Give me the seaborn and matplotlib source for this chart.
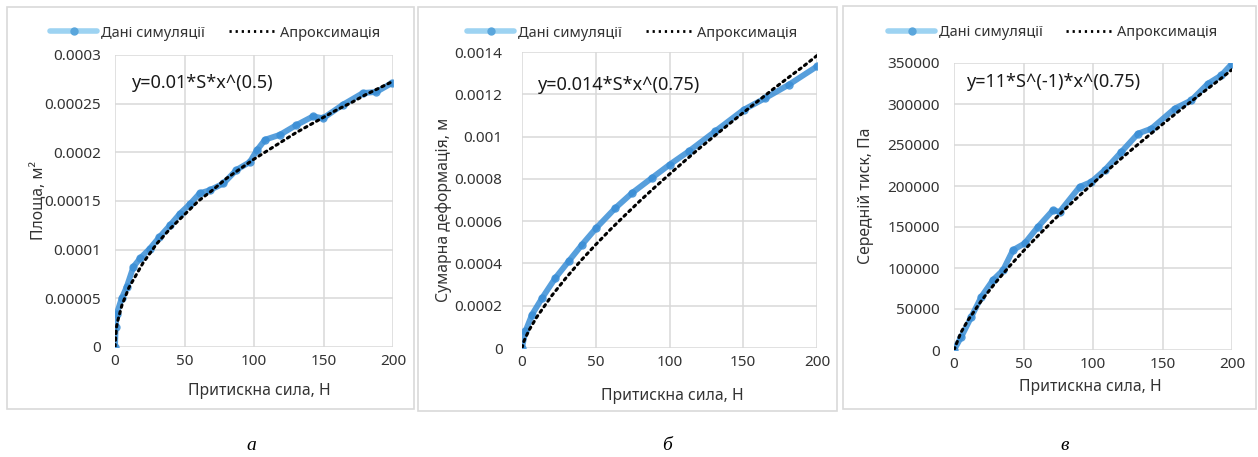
import numpy as np
import pandas as pd
import matplotlib
matplotlib.use("Agg")
import matplotlib.pyplot as plt
from matplotlib.lines import Line2D
from matplotlib.patches import Rectangle
import seaborn as sns

# ---------------- data ----------------
# Panel a: contact area
a_sim_x = [0, 0.5, 1.2, 4.8, 8.4, 13.2, 18, 25, 32, 39.5, 46.7, 54, 61, 68, 78, 87.4,
           97, 102, 108, 118.6, 130.5, 142.5, 149.7, 164, 178.4, 188, 199]
a_sim_y = [0, 0.0000206, 0.000034, 0.00005, 0.0000617, 0.0000823, 0.000091, 0.000101,
           0.000113, 0.000125, 0.000137, 0.000147, 0.000158, 0.000161, 0.000168, 0.000182,
           0.00019, 0.000202, 0.000213, 0.000218, 0.000228, 0.000237, 0.000235, 0.000249,
           0.000261, 0.000262, 0.000271]
a_fit_x = [0, 1, 2, 5, 10, 20, 30, 40, 50, 60, 70, 80, 90, 100, 110, 120, 130, 140, 150,
           160, 170, 180, 190, 200]
a_fit_y = [0, 0.00002, 0.000027, 0.000043, 0.000061, 0.000086, 0.000106, 0.000122, 0.000136,
           0.00015, 0.000161, 0.000173, 0.000183, 0.000193, 0.000202, 0.000211, 0.00022,
           0.000228, 0.000236, 0.000244, 0.000251, 0.000259, 0.000266, 0.000273]

# Panel b: total deformation
b_sim_x = [0, 2.3, 6.8, 13.6, 22.6, 31.6, 40.7, 50.4, 63.3, 74.6, 88, 100, 113, 131, 150.3,
           165, 180.8, 200]
b_sim_y = [0, 0.0000788, 0.000158, 0.000236, 0.000331, 0.00041, 0.000489, 0.000568, 0.000662,
           0.000733, 0.000804, 0.000867, 0.00093, 0.001025, 0.001127, 0.001182, 0.001245,
           0.001332]
b_fit_x = [0, 1, 2, 5, 10, 20, 30, 40, 50, 60, 70, 80, 90, 100, 110, 120, 130, 140, 150,
           160, 170, 180, 190, 200]
b_fit_y = [0, 0.000026, 0.0000437, 0.000087, 0.000146, 0.000246, 0.000333, 0.000414, 0.000489,
           0.000561, 0.000629, 0.000696, 0.00076, 0.000822, 0.000883, 0.000943, 0.001,
           0.001057, 0.001113, 0.001168, 0.001223, 0.001276, 0.001328, 0.001383]

# Panel c: mean pressure
c_sim_x = [0, 5.3, 12.5, 19.7, 28, 35.3, 42.4, 50.8, 60.4, 71.2, 76, 90.4, 98.8, 108.4, 120.4,
           132.4, 142, 158.8, 170.7, 182.7, 192.3, 200]
c_sim_y = [0, 16240, 40600, 65000, 85300, 97400, 121800, 130000, 150200, 170500, 168500,
           199000, 205000, 219300, 241600, 263900, 270000, 294400, 304500, 324800, 335000,
           349200]
c_fit_x = [0, 5, 10, 20, 30, 40, 50, 60, 70, 80, 90, 100, 110, 120, 130, 140, 150, 160, 170,
           180, 190, 200]
c_fit_y = [0, 21470, 36130, 60820, 82420, 102290, 120870, 138600, 155580, 171980, 187860,
           203290, 218330, 233050, 247390, 261470, 275290, 288920, 302290, 315410, 328330,
           341900]

x_ticks = [0, 50, 100, 150, 200]
a_yticks = [0, 0.00005, 0.0001, 0.00015, 0.0002, 0.00025, 0.0003]
a_ylabels = ["0", "0.00005", "0.0001", "0.00015", "0.0002", "0.00025", "0.0003"]
b_yticks = [0, 0.0002, 0.0004, 0.0006, 0.0008, 0.001, 0.0012, 0.0014]
b_ylabels = ["0", "0.0002", "0.0004", "0.0006", "0.0008", "0.001", "0.0012", "0.0014"]
c_yticks = [0, 50000, 100000, 150000, 200000, 250000, 300000, 350000]
c_ylabels = ["0", "50000", "100000", "150000", "200000", "250000", "300000", "350000"]

sim_label = "Дані симуляції"
fit_label = "Апроксимація"
x_label = "Притискна сила, Н"
y_labels = ["Площа, м²", "Сумарна деформація, м", "Середній тиск, Па"]
equations = ["y=0.01*S*x^(0.5)", "y=0.014*S*x^(0.75)", "y=11*S^(-1)*x^(0.75)"]
letters = ["а", "б", "в"]

# ---------------- style ----------------
sns.set_theme(style="whitegrid")
plt.rcParams["font.family"] = ["Noto Sans", "DejaVu Sans"]
TXT = "#333333"
GRID = "#d9d9d9"
BLUE = "#3a8ed6"

W, H = 1258, 457
fig = plt.figure(figsize=(W / 100, H / 100), dpi=100)
fig.patch.set_facecolor("white")

# panel frames (pixels: left, top, right, bottom)
frames = [(7, 7, 414, 409), (418, 7, 837, 411), (843, 6, 1256, 409)]
for l, t, r, b in frames:
    fig.add_artist(Rectangle((l / W, 1 - b / H), (r - l) / W, (b - t) / H,
                             transform=fig.transFigure, fill=False,
                             edgecolor=GRID, lw=1.2))

# axes boxes in pixels: left, top, right, bottom
boxes = [(115, 55, 393, 347), (522, 52, 817, 348), (954, 63, 1232, 350)]
datasets = [
    (a_sim_x, a_sim_y, a_fit_x, a_fit_y, a_yticks, a_ylabels),
    (b_sim_x, b_sim_y, b_fit_x, b_fit_y, b_yticks, b_ylabels),
    (c_sim_x, c_sim_y, c_fit_x, c_fit_y, c_yticks, c_ylabels),
]
eq_pos = [(0.061, 0.904), (0.054, 0.889), (0.047, 0.934)]
leg_pos = [(0.36, 1.075), (0.373, 1.064), (0.356, 1.105)]
xlab_pos = [(0.518, -0.122), (0.508, -0.134), (0.489, -0.100)]
ylab_pos = [(-0.245, 0.503), (-0.237, 0.466), (-0.288, 0.537)]
ypads = [10, 14, 10]
letter_x = [251, 667, 1065]

for i, ((l, t, r, b), (sx, sy, fx, fy, yt, yl)) in enumerate(zip(boxes, datasets)):
    ax = fig.add_axes([l / W, 1 - b / H, (r - l) / W, (b - t) / H])
    ax.set_facecolor("white")
    sim = pd.DataFrame({"x": sx, "y": sy})
    fit = pd.DataFrame({"x": fx, "y": fy})
    sns.lineplot(data=sim, x="x", y="y", ax=ax, sort=False, color=BLUE, lw=4.2, alpha=0.85,
                 marker="o", markersize=6, markeredgewidth=0, legend=False, zorder=3)
    sns.lineplot(data=fit, x="x", y="y", ax=ax, sort=False, color="black", lw=2.2,
                 linestyle=(0, (0.8, 1.4)), dash_capstyle="round", legend=False, zorder=4)
    ax.set_xlim(0, 200)
    ax.set_ylim(yt[0], yt[-1])
    ax.set_xticks(x_ticks)
    ax.set_xticklabels([str(v) for v in x_ticks])
    ax.set_yticks(yt)
    ax.set_yticklabels(yl)
    for sp in ax.spines.values():
        sp.set_visible(False)
    ax.grid(True, color=GRID, lw=1.1)
    ax.tick_params(axis="both", length=0, labelsize=11, labelcolor=TXT)
    ax.tick_params(axis="x", pad=5)
    ax.tick_params(axis="y", pad=ypads[i])
    ax.set_xlabel(x_label, fontsize=11.3, color=TXT)
    ax.set_ylabel(y_labels[i], fontsize=11.3, color=TXT)
    ax.xaxis.set_label_coords(*xlab_pos[i])
    ax.yaxis.set_label_coords(*ylab_pos[i])
    ax.text(eq_pos[i][0], eq_pos[i][1], equations[i], transform=ax.transAxes,
            fontsize=13, color="#1a1a1a", va="center", ha="left")
    handles = [
        Line2D([], [], color="#9dd3f2", lw=4, marker="o", markersize=5,
               markerfacecolor="#5aa6dc", markeredgecolor="#5aa6dc"),
        Line2D([], [], color="black", lw=2, linestyle=(0, (0.8, 1.4))),
    ]
    ax.legend(handles, [sim_label, fit_label], loc="center",
              bbox_to_anchor=leg_pos[i], ncol=2, frameon=False, fontsize=10.5,
              handlelength=3.2, handletextpad=0.3, columnspacing=1.6,
              labelcolor=TXT, borderaxespad=0)
    fig.text(letter_x[i] / W, 1 - 445 / H, letters[i], family="Liberation Serif",
             style="italic", fontsize=14, ha="center", va="center", color="black")

fig.savefig("out.png", dpi=100, facecolor="white")
